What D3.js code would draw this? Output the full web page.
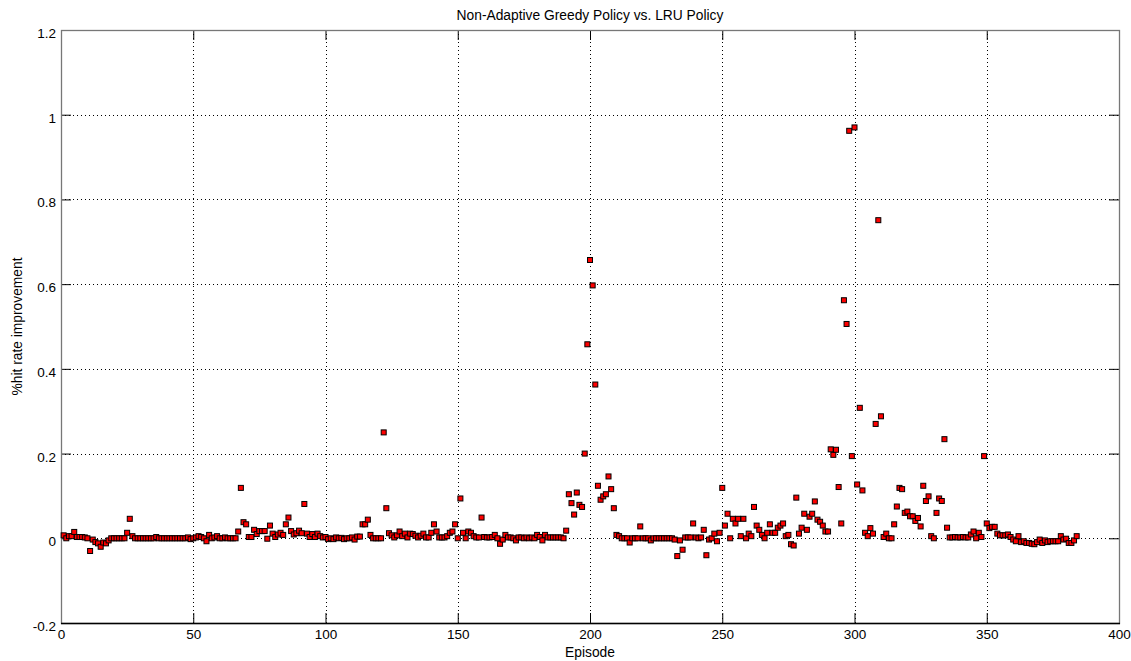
<!DOCTYPE html>
<html>
<head>
<meta charset="utf-8">
<script src="https://cdn.jsdelivr.net/npm/d3@7"></script>
<style>
  body { margin: 0; background: #fff; }
  text { font-family: "Liberation Sans", Arial, Helvetica, sans-serif; }
</style>
</head>
<body>
<div id="chart"></div>
<script>
const chartTitle = 'Non-Adaptive Greedy Policy vs. LRU Policy';
const xAxisTitle = 'Episode';
const yAxisTitle = '%hit rate improvement';

const xTicks = [0, 50, 100, 150, 200, 250, 300, 350, 400];
const yTicks = [-0.2, 0, 0.2, 0.4, 0.6, 0.8, 1, 1.2];

// % hit rate improvement per episode (episode 1 .. 384)
const hitImprovement = [
  // 1-20
  0.007, 0.000, 0.005, 0.005, 0.015, 0.003, 0.003, 0.003, 0.002, 0.000,
  -0.030, -0.003, -0.009, -0.012, -0.020, -0.010, -0.012, -0.005, 0.000, 0.000,
  // 21-40
  0.000, 0.000, 0.000, 0.000, 0.013, 0.046, 0.005, 0.000, 0.000, 0.000,
  0.000, 0.000, 0.000, 0.000, 0.000, 0.003, 0.000, 0.000, 0.000, 0.000,
  // 41-60
  0.000, 0.000, 0.000, 0.000, 0.000, 0.000, 0.000, 0.002, -0.002, 0.000,
  0.002, 0.005, 0.003, 0.000, -0.007, 0.008, 0.000, 0.002, 0.005, 0.000,
  // 61-80
  0.000, 0.002, 0.000, 0.000, 0.000, 0.000, 0.016, 0.119, 0.038, 0.033,
  0.003, 0.003, 0.020, 0.010, 0.017, 0.017, 0.017, -0.001, 0.030, 0.011,
  // 81-100
  0.003, 0.009, 0.013, 0.008, 0.033, 0.049, 0.017, 0.009, 0.012, 0.018,
  0.012, 0.081, 0.011, 0.003, 0.010, 0.003, 0.011, 0.005, 0.002, 0.003,
  // 101-120
  -0.002, 0.000, -0.002, 0.002, 0.000, 0.001, -0.002, 0.000, 0.000, 0.002,
  -0.003, 0.004, 0.004, 0.033, 0.033, 0.044, 0.008, 0.000, 0.000, 0.000,
  // 121-140
  0.000, 0.250, 0.071, 0.012, 0.007, 0.002, 0.007, 0.016, 0.005, 0.011,
  0.002, 0.011, 0.010, 0.006, 0.002, 0.006, 0.011, 0.002, 0.002, 0.013,
  // 141-160
  0.033, 0.016, 0.002, 0.002, 0.002, 0.005, 0.013, 0.016, 0.033, 0.000,
  0.094, 0.013, 0.000, 0.016, 0.013, 0.005, 0.002, 0.002, 0.049, 0.003,
  // 161-180
  0.002, 0.002, 0.003, 0.008, 0.000, -0.013, -0.003, 0.008, 0.002, 0.002,
  0.000, -0.005, 0.002, 0.002, 0.000, 0.002, 0.000, 0.002, 0.000, 0.008,
  // 181-200
  0.003, -0.005, 0.008, 0.002, 0.002, 0.002, 0.002, 0.002, 0.002, 0.000,
  0.018, 0.104, 0.083, 0.056, 0.108, 0.079, 0.074, 0.200, 0.458, 0.657,
  // 201-220
  0.597, 0.363, 0.124, 0.091, 0.099, 0.104, 0.146, 0.116, 0.071, 0.008,
  0.005, 0.000, 0.000, 0.000, -0.010, 0.000, 0.000, 0.000, 0.028, 0.000,
  // 221-240
  0.000, 0.000, -0.005, 0.000, 0.000, 0.000, 0.000, 0.000, 0.000, 0.000,
  0.000, -0.003, -0.042, -0.005, -0.027, 0.002, 0.002, 0.002, 0.035, 0.002,
  // 241-260
  0.000, 0.002, 0.020, -0.040, -0.003, 0.000, 0.011, -0.007, 0.013, 0.119,
  0.030, 0.058, 0.000, 0.046, 0.035, 0.046, 0.005, 0.046, 0.000, 0.011,
  // 261-280
  0.005, 0.074, 0.030, 0.020, 0.008, 0.000, 0.013, 0.033, 0.013, 0.013,
  0.025, 0.030, 0.035, 0.005, 0.008, -0.014, -0.017, 0.096, 0.011, 0.025,
  // 281-300
  0.058, 0.020, 0.051, 0.058, 0.087, 0.044, 0.039, 0.030, 0.016, 0.016,
  0.210, 0.197, 0.209, 0.121, 0.035, 0.562, 0.506, 0.962, 0.194, 0.970,
  // 301-320
  0.127, 0.308, 0.113, 0.013, 0.005, 0.024, 0.011, 0.270, 0.751, 0.288,
  0.003, 0.011, 0.000, 0.000, 0.033, 0.075, 0.119, 0.116, 0.060, 0.063,
  // 321-340
  0.052, 0.052, 0.041, 0.048, 0.028, 0.124, 0.088, 0.099, 0.005, 0.000,
  0.060, 0.094, 0.088, 0.234, 0.025, 0.002, 0.002, 0.003, 0.002, 0.002,
  // 341-360
  0.003, 0.002, 0.002, 0.009, 0.016, 0.000, 0.013, 0.003, 0.194, 0.035,
  0.024, 0.027, 0.027, 0.011, 0.007, 0.007, 0.007, 0.009, 0.003, -0.003,
  // 361-384
  -0.007, 0.005, -0.009, -0.007, -0.011, -0.011, -0.013, -0.014, -0.009, -0.003,
  -0.011, -0.005, -0.009, -0.007, -0.007, -0.007, -0.007, 0.005, -0.003, -0.001,
  -0.011, -0.011, -0.005, 0.005
];
const episodes = d3.range(1, hitImprovement.length + 1);

const config = {
  viewportWidth: 1131,
  viewportHeight: 661,
  margin: { top: 30, right: 12, bottom: 38, left: 61 },
  tickLength: 10,
  markerSize: 5
};

const points = episodes.map((ep, i) => ({ episode: ep, value: hitImprovement[i] }));

const svg = d3.select('#chart')
  .append('svg')
  .attr('width', config.viewportWidth)
  .attr('height', config.viewportHeight);

const plotLeft = config.margin.left;
const plotRight = config.viewportWidth - config.margin.right;
const plotTop = config.margin.top;
const plotBottom = config.viewportHeight - config.margin.bottom;

const x = d3.scaleLinear().domain([0, 400]).range([plotLeft, plotRight]);
const y = d3.scaleLinear().domain([-0.2, 1.2]).range([plotBottom, plotTop]);

const fmtY = d => String(+d.toFixed(1));

// dotted grid
const grid = svg.append('g').attr('stroke', '#000').attr('stroke-width', 1)
  .attr('stroke-dasharray', '1,3').attr('shape-rendering', 'crispEdges');
grid.selectAll('line.gx')
  .data(xTicks.slice(1, -1))
  .join('line')
  .attr('class', 'gx')
  .attr('x1', d => Math.round(x(d)) + 0.5).attr('x2', d => Math.round(x(d)) + 0.5)
  .attr('y1', plotTop).attr('y2', plotBottom);
grid.selectAll('line.gy')
  .data(yTicks.slice(1, -1))
  .join('line')
  .attr('class', 'gy')
  .attr('y1', d => Math.round(y(d)) + 0.5).attr('y2', d => Math.round(y(d)) + 0.5)
  .attr('x1', plotLeft).attr('x2', plotRight);

function styleAxis(g) {
  g.select('.domain').remove();
  g.selectAll('.tick line').attr('stroke', '#000');
  g.selectAll('.tick text')
    .attr('fill', '#000')
    .style('font-size', '13.5px')
    .style('font-family', '"Liberation Sans", Arial, sans-serif');
}

// axes with inward ticks on all four sides
svg.append('g')
  .attr('transform', `translate(0,${plotBottom})`)
  .call(d3.axisBottom(x).tickValues(xTicks).tickSize(-config.tickLength).tickPadding(6).tickSizeOuter(0))
  .call(styleAxis);

svg.append('g')
  .attr('transform', `translate(0,${plotTop})`)
  .call(d3.axisTop(x).tickValues(xTicks).tickSize(-config.tickLength).tickFormat('').tickSizeOuter(0))
  .call(styleAxis);

svg.append('g')
  .attr('transform', `translate(${plotLeft},0)`)
  .call(d3.axisLeft(y).tickValues(yTicks).tickSize(-config.tickLength).tickPadding(5).tickFormat(fmtY).tickSizeOuter(0))
  .call(styleAxis)
  .call(g => g.selectAll('.tick text').attr('dy', '0.55em'));

svg.append('g')
  .attr('transform', `translate(${plotRight},0)`)
  .call(d3.axisRight(y).tickValues(yTicks).tickSize(-config.tickLength).tickFormat('').tickSizeOuter(0))
  .call(styleAxis);

// box
svg.append('rect')
  .attr('x', plotLeft + 0.5).attr('y', plotTop + 0.5)
  .attr('width', plotRight - plotLeft).attr('height', plotBottom - plotTop)
  .attr('fill', 'none').attr('stroke', '#777').attr('stroke-width', 1.3);
svg.append('line')
  .attr('x1', plotLeft).attr('x2', plotRight + 1)
  .attr('y1', plotBottom + 0.5).attr('y2', plotBottom + 0.5)
  .attr('stroke', '#000').attr('stroke-width', 1.3);

// markers
svg.append('g')
  .selectAll('rect')
  .data(points)
  .join('rect')
  .attr('x', d => x(d.episode) - config.markerSize / 2)
  .attr('y', d => y(d.value) - config.markerSize / 2)
  .attr('width', config.markerSize)
  .attr('height', config.markerSize)
  .attr('fill', '#ff0000')
  .attr('stroke', '#000')
  .attr('stroke-width', 1);

// titles
svg.append('text')
  .attr('x', (plotLeft + plotRight) / 2)
  .attr('y', 20)
  .attr('text-anchor', 'middle')
  .style('font-size', '13.8px')
  .text(chartTitle);

svg.append('text')
  .attr('x', (plotLeft + plotRight) / 2)
  .attr('y', 657)
  .attr('text-anchor', 'middle')
  .style('font-size', '13.8px')
  .text(xAxisTitle);

svg.append('text')
  .attr('transform', `translate(22,${(plotTop + plotBottom) / 2}) rotate(-90)`)
  .attr('text-anchor', 'middle')
  .style('font-size', '13.8px')
  .text(yAxisTitle);
</script>
</body>
</html>
